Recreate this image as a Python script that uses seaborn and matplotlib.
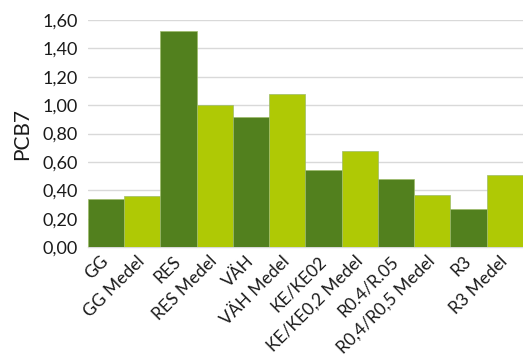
import matplotlib
matplotlib.use("Agg")
import matplotlib.pyplot as plt
from matplotlib.ticker import FuncFormatter
import seaborn as sns
import pandas as pd

categories = ["GG", "GG Medel", "RES", "RES Medel", "VÄH", "VÄH Medel",
              "KE/KE02", "KE/KE0,2 Medel", "R0.4/R.05", "R0,4/R0,5 Medel",
              "R3", "R3 Medel"]
values = [0.34, 0.36, 1.52, 1.00, 0.92, 1.08, 0.54, 0.68, 0.48, 0.37, 0.27, 0.51]
y_ticks = [0.0, 0.2, 0.4, 0.6, 0.8, 1.0, 1.2, 1.4, 1.6]

dark_green = "#52801E"
light_green = "#AFC905"
colors = [dark_green if i % 2 == 0 else light_green for i in range(len(categories))]

df = pd.DataFrame({"kategori": categories, "PCB7": values})

sns.set_style("white")
plt.rcParams["font.family"] = ["Lato", "DejaVu Sans"]

fig = plt.figure(figsize=(5.23, 3.58), dpi=100)
ax = fig.add_axes([0.168, 0.31, 0.832, 0.634])

sns.barplot(data=df, x="kategori", y="PCB7", hue="kategori",
            palette=dict(zip(categories, colors)), legend=False, saturation=1,
            width=1.0, edgecolor="#9dbb6a", linewidth=0.5, ax=ax, zorder=3)

ax.set_ylim(0, 1.6)
ax.set_xlim(-0.5, len(categories) - 0.5)
ax.set_yticks(y_ticks)
ax.yaxis.set_major_formatter(FuncFormatter(lambda v, _: f"{v:.2f}".replace(".", ",")))
ax.grid(axis="y", color="#d9d9d9", linewidth=1.0, zorder=0)
ax.set_axisbelow(True)

for s in ["top", "right", "left"]:
    ax.spines[s].set_visible(False)
ax.spines["bottom"].set_color("#d9d9d9")
ax.spines["bottom"].set_linewidth(1.0)

ax.tick_params(axis="y", length=0, labelsize=13, colors="#1a1a1a", pad=7)
ax.tick_params(axis="x", length=0, labelsize=12.5, colors="#1a1a1a", pad=8.5)
ax.set_xticks(range(len(categories)))
ax.set_xticklabels(categories, rotation=45, ha="right", va="center",
                   rotation_mode="anchor")

ax.set_xlabel("")
ax.set_ylabel("PCB7", fontsize=15, color="#1a1a1a", labelpad=8)

fig.savefig("out.png", dpi=100)
